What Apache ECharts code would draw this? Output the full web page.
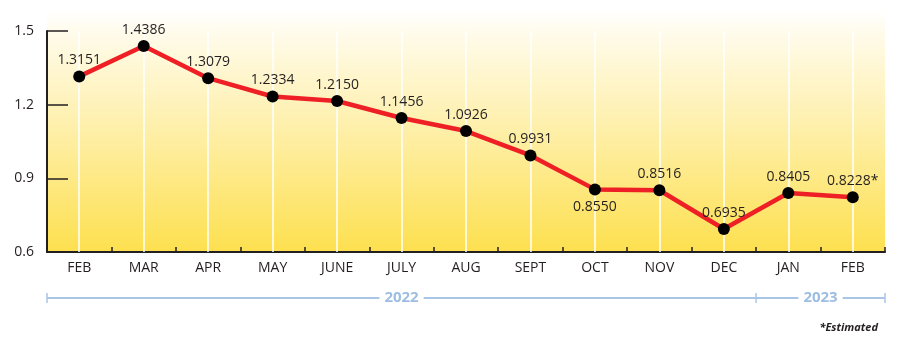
<!DOCTYPE html>
<html>
<head>
<meta charset="utf-8">
<script src="https://cdn.jsdelivr.net/npm/echarts@6/dist/echarts.min.js"></script>
<style>
  html, body { margin: 0; padding: 0; background: #ffffff; }
  #chart { width: 900px; height: 349px; }
</style>
</head>
<body>
<div id="chart"></div>
<script>
// Monthly values, Feb 2022 through Feb 2023
const months = ['FEB', 'MAR', 'APR', 'MAY', 'JUNE', 'JULY', 'AUG', 'SEPT', 'OCT', 'NOV', 'DEC', 'JAN', 'FEB'];
const values = [1.3151, 1.4386, 1.3079, 1.2334, 1.2150, 1.1456, 1.0926, 0.9931, 0.8550, 0.8516, 0.6935, 0.8405, 0.8228];
const estimatedIndex = [12];      // months flagged with an asterisk
const labelBelowIndex = [8];      // label sits under the marker
const yTicks = [0.6, 0.9, 1.2, 1.5];
const yearGroups = [
  { label: '2022', from: 0, to: 10 },
  { label: '2023', from: 11, to: 12 }
];

const W = 900, H = 349;
const gridLeft = 47, gridRight = 15, gridTop = 31, gridBottom = 97;
const plotW = W - gridLeft - gridRight;
const step = plotW / months.length;
const axisY = H - gridBottom;
const ink = '#231f20';
const yearBlue = '#a9c6e6';

const chart = echarts.init(document.getElementById('chart'), null, { renderer: 'canvas' });

// year bracket under the month labels
const bracketY = 298;
const bracket = [];
bracket.push({
  type: 'line', silent: true, z: 1,
  shape: { x1: gridLeft, y1: bracketY, x2: gridLeft + plotW, y2: bracketY },
  style: { stroke: yearBlue, lineWidth: 2 }
});
const edges = [gridLeft];
yearGroups.forEach(g => edges.push(gridLeft + (g.to + 1) * step));
edges.forEach(x => {
  bracket.push({
    type: 'line', silent: true, z: 2,
    shape: { x1: x, y1: bracketY - 5, x2: x, y2: bracketY + 5 },
    style: { stroke: yearBlue, lineWidth: 1.5 }
  });
});
yearGroups.forEach(g => {
  const cx = gridLeft + ((g.from + g.to + 1) / 2) * step;
  bracket.push({
    type: 'text', silent: true, z: 3,
    x: cx, y: bracketY,
    style: {
      text: g.label, fill: '#9dbde3',
      font: 'bold 15px "Open Sans", sans-serif',
      align: 'center', verticalAlign: 'middle',
      backgroundColor: '#ffffff', padding: [0, 5]
    }
  });
});

const option = {
  animation: false,
  backgroundColor: '#ffffff',
  grid: { left: gridLeft, right: gridRight, top: gridTop, bottom: gridBottom, containLabel: false },
  graphic: [
    {
      // pale-to-gold backdrop behind the plot area
      type: 'rect', silent: true, z: -10,
      shape: { x: gridLeft, y: 10, width: plotW, height: axisY - 10 },
      style: {
        fill: new echarts.graphic.LinearGradient(0, 0, 0, 1, [
          { offset: 0, color: '#ffffff' },
          { offset: 0.1, color: '#fffbea' },
          { offset: 0.5, color: '#feefa8' },
          { offset: 1, color: '#fde04f' }
        ])
      }
    },
    ...bracket,
    {
      type: 'text', silent: true,
      x: 878, y: 328,
      style: {
        text: '*Estimated', fill: ink,
        font: 'italic bold 11px "Open Sans", sans-serif',
        align: 'right', verticalAlign: 'middle'
      }
    }
  ],
  xAxis: {
    type: 'category',
    data: months,
    boundaryGap: true,
    axisLine: { show: true, lineStyle: { color: ink, width: 2 } },
    axisTick: { show: true, inside: true, length: 5, lineStyle: { color: ink, width: 1.5 } },
    axisLabel: {
      color: ink, fontSize: 14, margin: 9,
      fontFamily: '"Open Sans", sans-serif', interval: 0
    },
    splitLine: { show: false }
  },
  yAxis: {
    type: 'value',
    min: 0.6, max: 1.5, interval: 0.3,
    axisLine: { show: true, lineStyle: { color: ink, width: 2 } },
    axisTick: { show: true, inside: true, length: 21, lineStyle: { color: ink, width: 1.5 } },
    axisLabel: {
      color: ink, fontSize: 14, margin: 13,
      fontFamily: '"Open Sans", sans-serif',
      formatter: v => {
        const t = yTicks.find(k => Math.abs(k - v) < 1e-6);
        return t === undefined ? '' : t.toFixed(1);
      }
    },
    splitLine: { show: false }
  },
  series: [{
    type: 'line',
    data: values.map((v, i) => ({
      value: v,
      label: labelBelowIndex.includes(i) ? { position: 'bottom', distance: 5 } : undefined
    })),
    symbol: 'circle',
    symbolSize: 12,
    itemStyle: { color: '#000000' },
    lineStyle: { color: '#ee1f25', width: 4.5 },
    z: 5,
    label: {
      show: true, position: 'top', distance: 3,
      color: ink, fontSize: 14,
      fontFamily: '"Open Sans", sans-serif',
      formatter: p => p.value.toFixed(4) + (estimatedIndex.includes(p.dataIndex) ? '*' : '')
    },
    markLine: {
      silent: true, symbol: 'none', z: 1,
      label: { show: false },
      lineStyle: { color: '#ffffff', width: 1.5, type: 'solid' },
      data: months.map((m, i) => ({ xAxis: i }))
    }
  }]
};

chart.setOption(option);
</script>
</body>
</html>
